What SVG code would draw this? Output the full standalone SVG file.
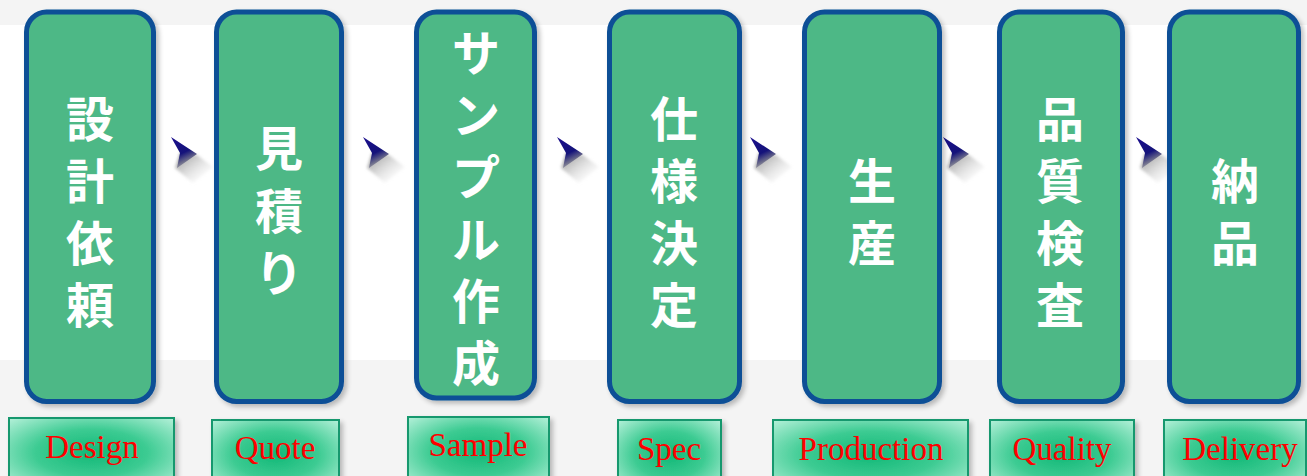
<svg xmlns="http://www.w3.org/2000/svg" width="1307" height="476" viewBox="0 0 1307 476">
  <defs>
    <style>
      .step { fill: #4db886; stroke: #0d4f96; stroke-width: 5; }
      .jp { font-family: "Liberation Sans", "Noto Sans CJK JP", "Noto Sans CJK SC", sans-serif; font-size: 48px; font-weight: 700; fill: #ffffff; text-anchor: middle; dominant-baseline: central; }
      .lbl { fill: url(#lblG); stroke: #14986e; stroke-width: 2; }
      .en { font-family: "Liberation Serif", serif; font-size: 33px; fill: #ff0000; text-anchor: middle; }
    </style>
    <radialGradient id="lblG" cx="0.5" cy="0.5" r="0.75">
      <stop offset="0" stop-color="#12b877"/>
      <stop offset="0.45" stop-color="#3ccb92"/>
      <stop offset="1" stop-color="#c4f5e2"/>
    </radialGradient>
    <linearGradient id="arrG" x1="0" y1="0" x2="0.4" y2="1">
      <stop offset="0" stop-color="#1b0e8e"/>
      <stop offset="0.6" stop-color="#14137a"/>
      <stop offset="0.85" stop-color="#6b6b8a"/>
      <stop offset="1" stop-color="#a0a0a8"/>
    </linearGradient>
    <linearGradient id="shG" x1="0" y1="0" x2="1" y2="1">
      <stop offset="0" stop-color="#777777" stop-opacity="0.9"/>
      <stop offset="1" stop-color="#ffffff" stop-opacity="0"/>
    </linearGradient>
    <filter id="blur" x="-30%" y="-30%" width="160%" height="160%">
      <feGaussianBlur stdDeviation="1.5"/>
    </filter>
    <filter id="sh" x="-10%" y="-10%" width="130%" height="130%">
      <feGaussianBlur in="SourceAlpha" stdDeviation="2.5"/>
      <feOffset dx="3" dy="3"/>
      <feComponentTransfer><feFuncA type="linear" slope="0.25"/></feComponentTransfer>
      <feMerge><feMergeNode/><feMergeNode in="SourceGraphic"/></feMerge>
    </filter>
    <g id="arrow">
      <path d="M9,16 L26,18 L42,30 L22,46 L4,31 Z" fill="url(#shG)" filter="url(#blur)"/>
      <path d="M0,0 L26,17 L6,31 L9,16 Z" fill="url(#arrG)"/>
    </g>
  </defs>

  <rect x="0" y="0" width="1307" height="476" fill="#f4f4f4"/>
  <rect x="0" y="25" width="1307" height="335" fill="#ffffff"/>

  <g id="connectors">
    <use href="#arrow" x="171" y="137"/>
    <use href="#arrow" x="363" y="137"/>
    <use href="#arrow" x="557" y="137"/>
    <use href="#arrow" x="750" y="137"/>
    <use href="#arrow" x="943" y="137"/>
    <use href="#arrow" x="1136" y="137"/>
  </g>

  <g id="node-design">
    <rect class="step" x="26.5" y="12" width="127" height="389.5" rx="20" filter="url(#sh)"/>
    <text class="jp"><tspan x="90" y="120">設</tspan><tspan x="90" y="182">計</tspan><tspan x="90" y="244">依</tspan><tspan x="90" y="306">頼</tspan></text>
  </g>
  <g id="node-quote">
    <rect class="step" x="216.5" y="12" width="125" height="389.5" rx="20" filter="url(#sh)"/>
    <text class="jp"><tspan x="279" y="149">見</tspan><tspan x="279" y="212">積</tspan><tspan x="279" y="274">り</tspan></text>
  </g>
  <g id="node-sample">
    <rect class="step" x="416.5" y="12" width="118" height="386" rx="20" filter="url(#sh)"/>
    <text class="jp"><tspan x="476" y="54">サ</tspan><tspan x="476" y="116">ン</tspan><tspan x="476" y="178">プ</tspan><tspan x="476" y="240">ル</tspan><tspan x="476" y="302">作</tspan><tspan x="476" y="364">成</tspan></text>
  </g>
  <g id="node-spec">
    <rect class="step" x="609.5" y="12" width="130" height="389.5" rx="20" filter="url(#sh)"/>
    <text class="jp"><tspan x="674" y="120">仕</tspan><tspan x="674" y="182">様</tspan><tspan x="674" y="244">決</tspan><tspan x="674" y="306">定</tspan></text>
  </g>
  <g id="node-production">
    <rect class="step" x="804.5" y="12" width="135" height="389.5" rx="20" filter="url(#sh)"/>
    <text class="jp"><tspan x="872" y="182">生</tspan><tspan x="872" y="244">産</tspan></text>
  </g>
  <g id="node-quality">
    <rect class="step" x="999.5" y="12" width="123" height="389.5" rx="20" filter="url(#sh)"/>
    <text class="jp"><tspan x="1060" y="120">品</tspan><tspan x="1060" y="182">質</tspan><tspan x="1060" y="244">検</tspan><tspan x="1060" y="306">査</tspan></text>
  </g>
  <g id="node-delivery">
    <rect class="step" x="1169.5" y="12" width="129" height="389.5" rx="20" filter="url(#sh)"/>
    <text class="jp"><tspan x="1235" y="182">納</tspan><tspan x="1235" y="244">品</tspan></text>
  </g>

  <g id="label-design">
    <rect class="lbl" x="9" y="418" width="165" height="70" filter="url(#sh)"/>
    <text class="en" x="92" y="458">Design</text>
  </g>
  <g id="label-quote">
    <rect class="lbl" x="212" y="420" width="127" height="70" filter="url(#sh)"/>
    <text class="en" x="275" y="459">Quote</text>
  </g>
  <g id="label-sample">
    <rect class="lbl" x="408" y="417" width="141" height="70" filter="url(#sh)"/>
    <text class="en" x="478" y="456">Sample</text>
  </g>
  <g id="label-spec">
    <rect class="lbl" x="618" y="420" width="103" height="70" filter="url(#sh)"/>
    <text class="en" x="669" y="460">Spec</text>
  </g>
  <g id="label-production">
    <rect class="lbl" x="773" y="420" width="195" height="70" filter="url(#sh)"/>
    <text class="en" x="871" y="460">Production</text>
  </g>
  <g id="label-quality">
    <rect class="lbl" x="990" y="420" width="144" height="70" filter="url(#sh)"/>
    <text class="en" x="1062" y="460">Quality</text>
  </g>
  <g id="label-delivery">
    <rect class="lbl" x="1164" y="420" width="142" height="70" filter="url(#sh)"/>
    <text class="en" x="1240" y="460">Delivery</text>
  </g>
</svg>
